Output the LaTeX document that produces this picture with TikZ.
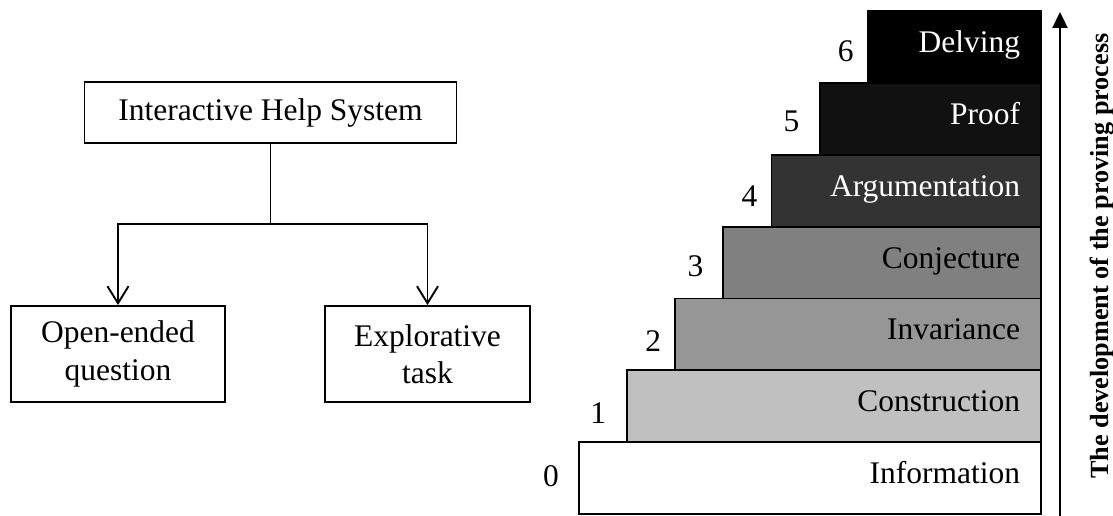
\documentclass[tikz,border=0pt]{standalone}
\usepackage{fontspec}
\setmainfont{Liberation Serif}
\usepackage{tikz}
\usetikzlibrary{arrows.meta,positioning}
\definecolor{lvlone}{HTML}{C0C0C0}
\definecolor{lvltwo}{HTML}{969696}
\definecolor{lvlthree}{HTML}{808080}
\definecolor{lvlfour}{HTML}{333333}
\definecolor{lvlfive}{HTML}{111111}
\definecolor{lvlsix}{HTML}{000000}

\begin{document}
\begin{tikzpicture}[x=1bp,y=-1bp,line width=1.9bp,
  box/.style={draw,rectangle,inner sep=0pt,align=center,font=\fontsize{31.6}{37.6}\selectfont},
  stair/.style n args={2}{draw,rectangle,inner sep=0pt,anchor=south east,fill=#1,minimum width=#2,minimum height=71.86bp},
  lvl/.style={inner sep=0pt,font=\fontsize{31.6}{37.6}\selectfont},
  barb/.style={-{Straight Barb[length=17bp,width=21bp]}}]
\useasboundingbox (0,0) rectangle (1113,516);
% help system
\node[box,minimum width=372bp,minimum height=61bp] (ihs) at (270.5,112.5) {Interactive Help System};
\node[box,minimum width=214bp,minimum height=96bp] (oeq) at (118,354) {Open-ended\\question};
\node[box,minimum width=205bp,minimum height=96bp] (expl) at (427.5,354) {Explorative\\task};
\coordinate (fork) at (270.5,224);
\draw (ihs) -- (fork);
\draw[barb] (fork) -| (oeq);
\draw[barb] (fork) -| (expl);
% staircase
\foreach \i/\txt/\fc/\tc/\dx/\dy in %
{0/Information/white/black/27bp/1.5bp,1/Construction/lvlone/black/28bp/-7bp,%
2/Invariance/lvltwo/black/21bp/-7bp,3/Conjecture/lvlthree/black/27bp/-4bp,%
4/Argumentation/lvlfour/white/21bp/-5bp,5/Proof/lvlfive/white/27bp/-3bp,%
6/Delving/lvlsix/white/21bp/-4bp} {
   \pgfmathsetmacro\w{462-48.1*\i}
   \pgfmathsetmacro\yb{515-71.86*\i}
   \node[stair={\fc}{\w bp}] (s\i) at (1042,\yb) {};
   \node[lvl,text=\tc,anchor=base east] (t\i) at ([xshift=-21bp,yshift=-5.5bp]s\i.east) {\txt};
   \node[lvl] (n\i) at ([xshift=-\dx,yshift=\dy]s\i.west) {\i};
}
\coordinate (abot) at (1060,516);
\coordinate (atop) at (1060,12);
\draw[line width=2.2bp,-{Triangle[length=16bp,width=15bp]}] (abot) -- (atop);
\node[rotate=90,inner sep=0pt,font=\bfseries\fontsize{26.3}{31}\selectfont] (axis) at (1102,256) {The development of the proving process};
\end{tikzpicture}
\end{document}
